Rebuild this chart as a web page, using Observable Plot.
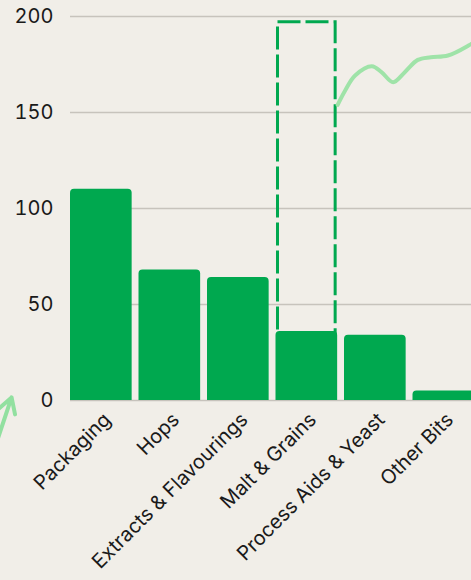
<!DOCTYPE html>
<html>
<head>
<meta charset="utf-8">
<script src="https://cdn.jsdelivr.net/npm/d3@7"></script>
<script src="https://cdn.jsdelivr.net/npm/@observablehq/plot@0.6"></script>
<style>
  html, body { margin: 0; padding: 0; background: #f1eee8; overflow: hidden; }
  #chart svg { display: block; }
</style>
</head>
<body>
<div id="chart"></div>
<script>
// ---- data ----
const categories = ["Packaging", "Hops", "Extracts & Flavourings", "Malt & Grains", "Process Aids & Yeast", "Other Bits"];
const values = [110, 68, 64, 36, 34, 5];
const yTicks = [0, 50, 100, 150, 200];

// dashed highlight box around one category
const highlightCategory = "Malt & Grains";
const highlightTop = 198;

// decorative squiggle (x in category-slot units, y in value units)
const squiggleX = [3.90, 4.01, 4.155, 4.40, 4.54, 4.71, 4.88, 5.07, 5.26, 5.51, 5.81, 6.01];
const squiggleY = [154, 161.5, 169.3, 174.1, 171.0, 165.8, 171.0, 177.4, 178.8, 179.7, 184.9, 189.6];

// decorative arrow at the bottom left
const arrowStart = [-1.10, -24];
const arrowEnd = [-0.86, 1.6];

// ---- build ----
const bandWidth = 0.9;
const bars = categories.map((c, i) => ({category: c, i, value: values[i]}));
const hlIndex = categories.indexOf(highlightCategory);
const highlight = [{i: hlIndex, top: highlightTop}];
const squiggle = squiggleX.map((x, k) => ({x, y: squiggleY[k]}));
const tickPositions = categories.map((c, i) => i + bandWidth / 2);

const green = "#00a84f";
const xMax = categories.length - 1 + bandWidth;
const chart = Plot.plot({
  width: 471,
  height: 580,
  marginLeft: 70,
  marginRight: 0,
  marginTop: 16,
  marginBottom: 180,
  style: {fontFamily: "Inter, sans-serif", fontSize: "20px", color: "#1a1a1a", background: "transparent"},
  x: {domain: [0, xMax], range: [70, 70 + xMax * 68.5]},
  y: {domain: [0, 200]},
  marks: [
    Plot.gridY({ticks: yTicks, stroke: "#c7c3bc", strokeOpacity: 1, strokeWidth: 1.5}),
    Plot.rect(highlight, {
      x1: d => d.i, x2: d => d.i + bandWidth, y1: 0, y2: "top",
      fill: "none", stroke: green, strokeWidth: 3, strokeDasharray: "23 5", inset: 2
    }),
    Plot.rectY(bars, {
      x1: d => d.i, x2: d => d.i + bandWidth, y1: 0, y2: "value",
      fill: green, rx: 4, insetBottom: -8, clip: true
    }),
    Plot.line(squiggle, {x: "x", y: "y", curve: "catmull-rom", stroke: "#9fe3a8", strokeWidth: 4, strokeLinecap: "round"}),
    Plot.arrow([{x1: arrowStart[0], y1: arrowStart[1], x2: arrowEnd[0], y2: arrowEnd[1]}], {
      x1: "x1", y1: "y1", x2: "x2", y2: "y2", stroke: "#92e0a0", strokeWidth: 4, headLength: 10
    }),
    Plot.axisY({ticks: yTicks, tickSize: 0, tickPadding: 17, fontSize: 20, tickFormat: d => String(d)}),
    Plot.axisX({
      ticks: tickPositions, tickSize: 0, tickPadding: 16, dx: 6, tickRotate: -45, fontSize: 20,
      tickFormat: d => categories[Math.round(d - bandWidth / 2)]
    })
  ]
});
document.getElementById("chart").append(chart);
</script>
</body>
</html>
